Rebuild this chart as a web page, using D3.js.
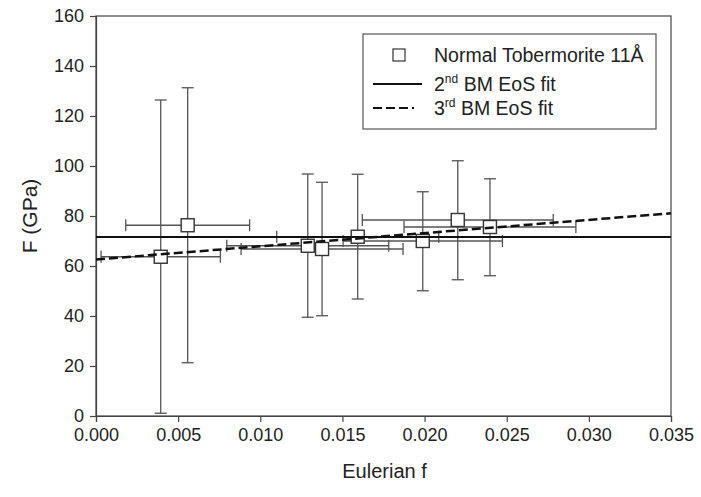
<!DOCTYPE html>
<html>
<head>
<meta charset="utf-8">
<script src="https://cdn.jsdelivr.net/npm/d3@7"></script>
<style>
  body { margin: 0; background: #fff; }
  svg text { font-family: "Liberation Sans", Arial, sans-serif; fill: #222; }
</style>
</head>
<body>
<div id="chart"></div>
<script>
// measured points: Eulerian f, F (GPa) and their error ranges
var fVals = [0.00394, 0.00558, 0.01289, 0.01376, 0.01593, 0.01989, 0.02202, 0.02398];
var FVals = [63.7, 76.3, 68.1, 66.8, 71.7, 70.0, 78.4, 75.6];
var fErr = [0.00363, 0.00377, 0.00493, 0.00493, 0.00493, 0.00485, 0.00581, 0.00523];
var FLow = [1.1, 21.3, 39.5, 40.1, 46.8, 50.1, 54.5, 56.1];
var FHigh = [126.4, 131.3, 96.8, 93.5, 96.7, 89.7, 102.1, 94.9];

// fits
var fit2 = [[0, 71.6], [0.035, 71.6]];
var fit3 = [[0, 62.6], [0.035, 81.1]];

var xTicks = [0, 0.005, 0.01, 0.015, 0.02, 0.025, 0.03, 0.035];
var yTicks = [0, 20, 40, 60, 80, 100, 120, 140, 160];

var width = 701, height = 497;
var margin = { top: 16, right: 30, bottom: 81, left: 96 };
var plot_w = width - margin.left - margin.right;
var plot_h = height - margin.top - margin.bottom;

var svg = d3.select("#chart").append("svg")
  .attr("width", width)
  .attr("height", height);

var g = svg.append("g")
  .attr("transform", "translate(" + margin.left + "," + margin.top + ")");

var x = d3.scaleLinear().domain([0, 0.035]).range([0, plot_w]);
var y = d3.scaleLinear().domain([0, 160]).range([plot_h, 0]);

var axisColor = "#444";

// frame
g.append("rect")
  .attr("width", plot_w)
  .attr("height", plot_h)
  .attr("fill", "none")
  .attr("stroke", axisColor)
  .attr("stroke-width", 1.2);

var xAxis = g.append("g")
  .attr("transform", "translate(0," + plot_h + ")")
  .call(d3.axisBottom(x).tickValues(xTicks).tickFormat(d3.format(".3f")).tickSizeOuter(0).tickSize(6).tickPadding(6));
var yAxis = g.append("g")
  .call(d3.axisLeft(y).tickValues(yTicks).tickSizeOuter(0).tickSize(6).tickPadding(6));

[xAxis, yAxis].forEach(function (a) {
  a.select(".domain").attr("stroke", axisColor).attr("stroke-width", 1.2);
  a.selectAll(".tick line").attr("stroke", axisColor).attr("stroke-width", 1.2);
  a.selectAll(".tick text")
    .attr("font-size", 18)
    .attr("font-family", "Liberation Sans, Arial, sans-serif")
    .attr("fill", "#222");
});

var data = fVals.map(function (f, i) {
  return { f: f, F: FVals[i], fe: fErr[i], lo: FLow[i], hi: FHigh[i] };
});

var errColor = "#555";
var cap = 6;
var bars = g.append("g")
  .attr("stroke", errColor)
  .attr("stroke-width", 1.3)
  .attr("fill", "none");

data.forEach(function (d) {
  var cx = x(d.f), cy = y(d.F);
  // vertical
  bars.append("line").attr("x1", cx).attr("x2", cx).attr("y1", y(d.lo)).attr("y2", y(d.hi));
  bars.append("line").attr("x1", cx - cap).attr("x2", cx + cap).attr("y1", y(d.lo)).attr("y2", y(d.lo));
  bars.append("line").attr("x1", cx - cap).attr("x2", cx + cap).attr("y1", y(d.hi)).attr("y2", y(d.hi));
  // horizontal
  var xl = x(d.f - d.fe), xr = x(d.f + d.fe);
  bars.append("line").attr("x1", xl).attr("x2", xr).attr("y1", cy).attr("y2", cy);
  bars.append("line").attr("x1", xl).attr("x2", xl).attr("y1", cy - cap).attr("y2", cy + cap);
  bars.append("line").attr("x1", xr).attr("x2", xr).attr("y1", cy - cap).attr("y2", cy + cap);
});

var sq = 13;
g.append("g").selectAll("rect")
  .data(data)
  .enter()
  .append("rect")
  .attr("x", function (d) { return x(d.f) - sq / 2; })
  .attr("y", function (d) { return y(d.F) - sq / 2; })
  .attr("width", sq)
  .attr("height", sq)
  .attr("fill", "#fff")
  .attr("stroke", "#333")
  .attr("stroke-width", 1.4);

var line = d3.line()
  .x(function (d) { return x(d[0]); })
  .y(function (d) { return y(d[1]); });

g.append("path")
  .datum(fit2)
  .attr("d", line)
  .attr("fill", "none")
  .attr("stroke", "#111")
  .attr("stroke-width", 2);

g.append("path")
  .datum(fit3)
  .attr("d", line)
  .attr("fill", "none")
  .attr("stroke", "#111")
  .attr("stroke-width", 2.5)
  .attr("stroke-dasharray", "9,4");

// legend
var leg = svg.append("g");
leg.append("rect")
  .attr("x", 363).attr("y", 34)
  .attr("width", 293).attr("height", 95)
  .attr("fill", "#fff")
  .attr("stroke", "#555")
  .attr("stroke-width", 1.2);

leg.append("rect")
  .attr("x", 393).attr("y", 49)
  .attr("width", 12).attr("height", 12)
  .attr("fill", "#fff")
  .attr("stroke", "#333")
  .attr("stroke-width", 1.2);
leg.append("line")
  .attr("x1", 373).attr("x2", 422).attr("y1", 84).attr("y2", 84)
  .attr("stroke", "#111").attr("stroke-width", 2);
leg.append("line")
  .attr("x1", 373).attr("x2", 414).attr("y1", 108).attr("y2", 108)
  .attr("stroke", "#111").attr("stroke-width", 2)
  .attr("stroke-dasharray", "9,4");

leg.append("text")
  .attr("x", 434).attr("y", 62)
  .attr("font-size", 19.5)
  .text("Normal Tobermorite 11Å");

var t2 = leg.append("text").attr("x", 434).attr("y", 91).attr("font-size", 19.5);
t2.append("tspan").text("2");
t2.append("tspan").attr("font-size", 12).attr("dy", -8).text("nd");
t2.append("tspan").attr("dy", 8).text(" BM EoS fit");

var t3 = leg.append("text").attr("x", 434).attr("y", 115).attr("font-size", 19.5);
t3.append("tspan").text("3");
t3.append("tspan").attr("font-size", 12).attr("dy", -8).text("rd");
t3.append("tspan").attr("dy", 8).text(" BM EoS fit");

// axis titles
svg.append("text")
  .attr("x", margin.left + plot_w / 2 + 1)
  .attr("y", 478)
  .attr("text-anchor", "middle")
  .attr("font-size", 20)
  .text("Eulerian f");

svg.append("text")
  .attr("transform", "translate(37," + (margin.top + plot_h / 2) + ") rotate(-90)")
  .attr("text-anchor", "middle")
  .attr("font-size", 21)
  .text("F (GPa)");
</script>
</body>
</html>
